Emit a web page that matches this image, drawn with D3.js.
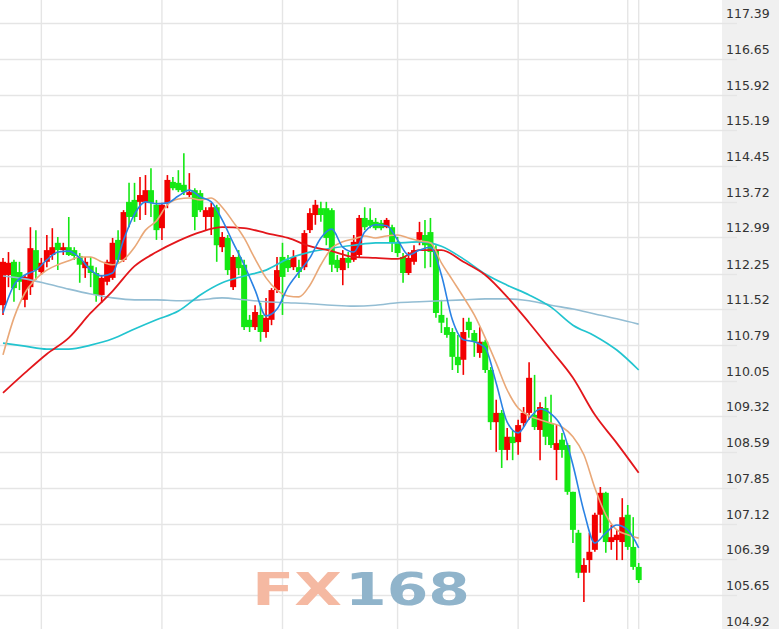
<!DOCTYPE html>
<html><head><meta charset="utf-8">
<script src="https://cdn.jsdelivr.net/npm/d3@7"></script>
<style>html,body{margin:0;padding:0;background:#fff;overflow:hidden}</style>
</head><body>
<svg id="c" width="779" height="629"></svg>
<script>
const tickLabels = ["117.39","116.65","115.92","115.19","114.45","113.72","112.99","112.25","111.52","110.79","110.05","109.32","108.59","107.85","107.12","106.39","105.65","104.92"];
const open = [111.60,112.22,112.49,112.28,111.71,111.97,112.73,112.28,112.49,112.63,
112.88,112.73,112.79,112.73,112.61,112.36,112.41,112.26,111.81,112.08,
112.16,112.94,112.53,113.72,113.76,113.72,113.72,113.96,113.66,113.18,
113.70,114.13,114.11,114.07,113.86,113.96,113.90,113.41,113.41,113.61,
112.79,112.98,111.97,112.59,112.43,111.30,111.15,111.40,111.05,111.30,
111.91,112.59,112.53,112.38,112.38,112.38,113.14,113.45,113.59,113.59,
113.55,112.53,112.32,112.57,112.53,112.63,113.39,113.35,113.31,113.29,
113.20,113.20,112.90,112.59,112.26,112.49,112.94,113.04,113.10,112.73,
111.40,111.15,111.05,110.54,110.48,111.26,111.03,110.62,110.85,110.27,
109.20,109.39,108.63,108.90,108.79,109.18,109.39,109.35,109.04,109.49,
109.18,108.63,108.84,108.73,107.77,106.93,106.11,106.37,106.58,107.30,
107.75,106.74,106.78,106.74,107.30,106.64,106.23];
const high = [112.57,112.69,112.53,112.49,112.22,113.20,113.14,112.57,113.04,113.18,
113.00,112.88,113.41,112.79,112.67,112.59,112.59,112.38,112.22,112.53,
112.98,113.14,113.55,114.11,114.11,114.23,114.27,114.41,113.76,113.70,
114.27,114.23,114.37,114.72,114.31,114.00,113.96,113.61,113.70,113.66,
113.10,113.04,112.63,112.73,112.53,111.40,111.60,111.65,111.75,111.95,
112.59,112.88,112.63,112.73,112.53,113.14,113.59,113.76,113.72,113.72,
113.59,112.63,112.73,112.69,113.04,113.45,113.61,113.59,113.39,113.35,
113.39,113.25,113.00,112.67,112.69,112.83,113.31,113.35,113.39,112.83,
111.71,111.34,111.13,110.99,111.34,111.34,111.09,111.15,110.89,110.33,
109.66,109.45,109.08,109.04,109.25,109.51,110.43,110.17,109.61,109.72,
109.76,109.14,108.98,108.77,107.77,106.99,106.41,106.93,107.34,107.87,
107.77,107.09,106.99,107.64,107.50,107.25,106.31];
const low = [111.40,111.97,111.67,111.91,111.56,111.81,112.12,112.22,112.38,112.53,
112.32,112.63,112.61,112.53,112.06,112.16,111.97,111.67,111.65,112.01,
112.12,112.47,112.49,113.20,113.31,113.35,113.45,113.41,112.94,112.94,
113.59,113.96,113.92,113.86,113.82,113.14,113.51,113.14,113.04,112.49,
112.69,112.22,111.91,112.22,111.09,111.05,111.09,110.85,110.93,111.19,
111.85,111.40,112.28,112.32,112.16,112.32,113.08,113.25,113.31,112.83,
112.28,112.28,112.01,112.36,112.49,112.57,113.14,113.18,113.14,113.14,
113.18,112.69,112.59,112.06,112.22,112.43,112.83,112.36,112.38,111.34,
111.03,110.93,110.27,110.21,110.17,110.93,110.54,110.52,110.21,109.04,
108.59,108.26,108.42,108.42,108.53,109.10,109.25,109.04,108.42,108.73,
108.67,108.01,108.47,107.71,106.72,106.00,105.51,106.11,106.54,106.93,
106.52,106.58,106.37,106.37,106.58,106.17,105.90];
const close = [112.49,112.47,111.95,112.08,112.18,112.77,112.32,112.47,112.73,112.79,
112.73,112.79,112.63,112.61,112.43,112.49,112.26,111.81,112.16,112.49,
112.88,112.53,113.51,113.41,113.41,113.86,113.96,113.70,113.14,113.66,
114.17,114.00,113.96,113.92,113.92,113.41,113.55,113.55,113.61,112.83,
113.00,112.32,112.59,112.36,111.15,111.15,111.46,111.05,111.34,111.91,
112.32,112.18,112.36,112.59,112.28,113.08,113.49,113.66,113.45,112.98,
112.43,112.36,112.57,112.47,112.90,113.39,113.20,113.23,113.18,113.18,
113.35,112.88,112.67,112.26,112.57,112.73,113.10,112.83,112.69,111.44,
111.24,110.99,110.54,110.37,111.05,111.09,110.85,110.85,110.27,109.20,
109.39,108.63,108.90,108.77,109.14,109.39,110.11,109.10,109.51,108.90,
108.73,108.77,108.63,107.77,106.99,106.11,106.27,106.54,107.30,107.75,
106.74,106.84,106.89,107.25,106.64,106.23,105.96];
const maFast = [111.44,112.01,112.22,112.32,112.53,112.69,112.71,112.57,112.32,112.20,
112.26,112.94,113.47,113.72,113.68,113.70,113.84,113.96,113.82,113.72,
113.35,112.88,112.43,111.91,111.38,111.52,111.97,112.28,112.57,112.98,
113.16,112.79,112.69,113.10,113.25,113.23,112.94,112.63,112.73,112.79,
112.22,111.30,110.89,110.85,110.72,110.00,109.20,108.98,109.27,109.47,
109.37,109.08,108.32,107.37,106.72,106.93,107.09,106.99,106.62];
const maMid = [110.58,111.34,111.85,112.14,112.32,112.43,112.51,112.59,112.59,112.49,
112.43,112.53,112.79,113.14,113.33,113.66,113.78,113.80,113.76,113.80,
113.61,113.31,112.98,112.55,112.16,111.91,111.79,111.77,112.01,112.43,
112.77,112.90,112.96,113.02,112.98,113.02,113.04,112.98,112.92,112.88,
112.47,112.12,111.77,111.40,110.93,110.41,109.86,109.49,109.33,109.25,
109.18,109.10,108.90,108.53,107.85,107.30,106.99,106.89,106.82];
const maRed = [109.80,110.21,110.60,110.93,111.44,111.89,112.40,112.69,112.92,113.10,
113.20,113.18,113.08,112.98,112.81,112.71,112.59,112.57,112.55,112.73,
112.73,112.49,112.22,111.77,111.24,110.68,110.11,109.35,108.77,108.16];
const maCyan = [110.82,110.76,110.70,110.70,110.78,110.91,111.11,111.30,111.48,111.81,
112.06,112.20,112.32,112.55,112.69,112.77,112.83,112.88,112.88,112.90,
112.81,112.55,112.24,112.01,111.81,111.56,111.19,110.97,110.68,110.27];
const maLight = [112.20,112.14,112.04,111.93,111.83,111.75,111.71,111.71,111.69,111.71,
111.75,111.71,111.67,111.65,111.63,111.60,111.58,111.60,111.65,111.67,
111.69,111.71,111.73,111.73,111.69,111.60,111.52,111.42,111.32,111.21];
const gridBars = [7, 29, 51, 72, 94, 114, 116];

const svg = d3.select("#c");
const W = 779, H = 629, plotR = 722;
const n = open.length;
const x = d3.scalePoint().domain(d3.range(n)).range([3, 638.7]);
const y = d3.scaleLinear().domain([104.92, 117.39]).range([630.75, 23]);

svg.append("rect").attr("x",0).attr("y",0).attr("width",W).attr("height",H).attr("fill","#fff");
svg.append("rect").attr("x",plotR).attr("y",0).attr("width",W-plotR).attr("height",H).attr("fill","#f0f0f0");

// grid
const g = svg.append("g");
g.selectAll("line.h").data(tickLabels).join("line")
  .attr("x1",0).attr("x2",737)
  .attr("y1",d=>Math.round(y(+d))+0.5).attr("y2",d=>Math.round(y(+d))+0.5)
  .attr("stroke","#e5e5e5").attr("stroke-width",1.6);
g.selectAll("line.v").data(gridBars).join("line")
  .attr("x1",d=>x(d)).attr("x2",d=>x(d)).attr("y1",0).attr("y2",H)
  .attr("stroke","#e5e5e5").attr("stroke-width",1.4);

// watermark
svg.append("text").attr("x",252).attr("y",605).attr("textLength",90).attr("lengthAdjust","spacingAndGlyphs")
  .attr("font-family","DejaVu Sans").attr("font-weight","bold").attr("font-size",45)
  .attr("fill","#f5b9a2").text("FX");
svg.append("text").attr("x",345).attr("y",605).attr("textLength",125).attr("lengthAdjust","spacingAndGlyphs")
  .attr("font-family","DejaVu Sans").attr("font-weight","bold").attr("font-size",45)
  .attr("fill","#90b4cb").text("168");

// candles
const up = "#f20000", dn = "#14e814";
const cg = svg.append("g");
const idx = d3.range(n);
cg.selectAll("line.w").data(idx).join("line")
  .attr("x1",i=>x(i)).attr("x2",i=>x(i))
  .attr("y1",i=>y(high[i])).attr("y2",i=>y(low[i]))
  .attr("stroke",i=>close[i]>=open[i]?up:dn).attr("stroke-width",1.6);
cg.selectAll("rect.b").data(idx).join("rect")
  .attr("x",i=>x(i)-3).attr("width",6)
  .attr("y",i=>y(Math.max(open[i],close[i])))
  .attr("height",i=>Math.max(1.5, Math.abs(y(open[i])-y(close[i]))))
  .attr("fill",i=>close[i]>=open[i]?up:dn);

// moving averages
function ma(vals, step, color, w){
  const line = d3.line().x((d,k)=>x(Math.min(k*step, n-1))).y(d=>y(d)).curve(d3.curveMonotoneX);
  svg.append("path").datum(vals).attr("d",line).attr("fill","none")
    .attr("stroke",color).attr("stroke-width",w).attr("stroke-linejoin","round");
}
ma(maLight, 4, "#93bdd3", 1.6);
ma(maCyan, 4, "#22c4cf", 1.7);
ma(maRed, 4, "#e3161b", 1.8);
ma(maMid, 2, "#e9a878", 1.6);
ma(maFast, 2, "#2a82e4", 1.6);

// axis labels
svg.append("g").selectAll("text").data(tickLabels).join("text")
  .attr("x",726).attr("y",d=>y(+d)-5)
  .attr("font-family","DejaVu Sans, Verdana, sans-serif").attr("font-size",12.5)
  .attr("fill","#333").text(d=>d);
</script>
</body></html>
